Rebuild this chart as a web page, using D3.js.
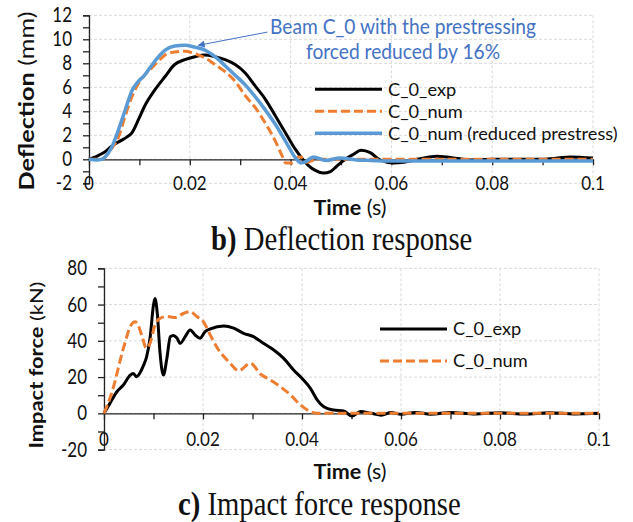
<!DOCTYPE html>
<html>
<head>
<meta charset="utf-8">
<script src="https://cdn.jsdelivr.net/npm/d3@7"></script>
<style>
  body { margin: 0; background: #fff; }
  text { font-family: Lato, "Open Sans", sans-serif; fill: #111; }
  .caption { font-family: "Liberation Serif", "Times New Roman", serif; }
</style>
</head>
<body>
<svg></svg>
<script>
// deflection response (b)
const defExpT = [0, 0.001, 0.002, 0.0032, 0.0045, 0.0052, 0.0065, 0.0075, 0.0085, 0.0098, 0.011, 0.0131, 0.0151, 0.017, 0.019, 0.021, 0.023, 0.025, 0.027, 0.029, 0.031, 0.033, 0.035, 0.037, 0.039, 0.041, 0.0422, 0.0435, 0.045, 0.0465, 0.048, 0.0491, 0.0505, 0.0524, 0.054, 0.0558, 0.0577, 0.0604, 0.0624, 0.0657, 0.069, 0.0717, 0.0756, 0.08, 0.085, 0.09, 0.093, 0.0954, 0.1];
const defExpV = [0, 0.15, 0.35, 0.63, 1.1, 1.3, 1.6, 1.85, 2.2, 3.3, 4.4, 5.8, 6.9, 7.9, 8.3, 8.55, 8.7, 8.55, 8.3, 7.9, 7.2, 6.1, 5.0, 3.6, 2.2, 0.8, 0.1, -0.5, -0.95, -1.15, -1.0, -0.6, -0.1, 0.4, 0.75, 0.55, -0.05, -0.3, -0.25, 0.05, 0.25, 0.15, -0.05, 0, 0, 0, 0.1, 0.2, 0.1];

const defNumT = [0, 0.0026, 0.0032, 0.0045, 0.0058, 0.0071, 0.0085, 0.0098, 0.011, 0.0124, 0.0138, 0.0151, 0.017, 0.019, 0.021, 0.023, 0.025, 0.027, 0.029, 0.031, 0.033, 0.035, 0.037, 0.0383, 0.039, 0.0403, 0.0416, 0.042, 0.0432, 0.045, 0.05, 0.06, 0.08, 0.1];
const defNumV = [0, 0, 0.2, 0.9, 1.8, 3.5, 5.2, 6.3, 7.0, 7.6, 8.2, 8.7, 8.95, 9.0, 8.8, 8.45, 7.9, 7.3, 6.5, 5.3, 4.3, 3.0, 1.5, 0.3, -0.3, -0.3, 0.2, 0.2, -0.25, 0, 0, 0, 0, 0];

const defRedT = [0, 0.0015, 0.0026, 0.0032, 0.0045, 0.0058, 0.0071, 0.0085, 0.0098, 0.011, 0.0124, 0.0138, 0.0151, 0.017, 0.019, 0.021, 0.023, 0.025, 0.027, 0.029, 0.031, 0.033, 0.035, 0.037, 0.039, 0.041, 0.042, 0.043, 0.0445, 0.047, 0.0498, 0.053, 0.056, 0.06, 0.07, 0.08, 0.09, 0.1];
const defRedV = [0, -0.05, 0, 0.2, 1.0, 2.4, 4.0, 5.7, 6.5, 7.0, 7.8, 8.55, 9.1, 9.45, 9.5, 9.35, 9.1, 8.55, 7.8, 7.0, 6.2, 5.2, 4.1, 2.9, 1.5, 0.1, -0.3, -0.2, 0.2, -0.1, 0.1, -0.05, -0.1, -0.15, -0.15, -0.15, -0.15, -0.15];

// impact force response (c)
const forceExpT = [0, 0.0012, 0.0026, 0.0039, 0.0053, 0.0059, 0.0066, 0.0072, 0.008, 0.0086, 0.0093, 0.01, 0.0103, 0.0108, 0.0113, 0.012, 0.0127, 0.0134, 0.014, 0.0147, 0.0154, 0.0164, 0.0174, 0.0184, 0.0194, 0.0204, 0.0215, 0.0242, 0.0262, 0.0282, 0.0302, 0.0322, 0.0343, 0.0363, 0.0383, 0.0403, 0.0417, 0.0431, 0.0444, 0.0464, 0.0484, 0.0501, 0.0518, 0.054, 0.056, 0.058, 0.06, 0.063, 0.066, 0.07, 0.075, 0.08, 0.085, 0.09, 0.095, 0.1];
const forceExpV = [0, 5.5, 11.9, 15.6, 21.1, 22, 20.2, 22, 26.6, 31.2, 41.4, 59.7, 63.4, 54, 34, 21.1, 30.3, 42.3, 43, 41.7, 38.6, 42.3, 46, 43.2, 41.4, 45, 46.6, 48.2, 47, 44.1, 42.3, 38.6, 34.9, 30.3, 23.9, 18.4, 13.8, 7.3, 3.6, 1.8, 1.3, -1.5, 1, 0, -1, 0.5, -0.5, 0.5, -0.5, 0.5, -0.3, 0.3, -0.4, 0.3, -0.3, 0];

const forceNumT = [0, 0.0012, 0.0022, 0.0032, 0.0043, 0.0053, 0.0063, 0.0069, 0.0076, 0.0086, 0.0093, 0.0103, 0.0113, 0.0127, 0.0144, 0.0161, 0.0174, 0.0188, 0.0201, 0.0215, 0.0228, 0.0255, 0.0272, 0.0296, 0.0316, 0.0336, 0.0356, 0.0377, 0.0397, 0.0417, 0.043, 0.1];
const forceNumV = [0, 8.3, 17.4, 28.5, 39.5, 47.8, 50.5, 48.7, 43.2, 35.9, 38.6, 48.7, 52.4, 53.4, 52.8, 55.2, 56.1, 53.3, 50.5, 43, 36.5, 27.6, 23.5, 27.6, 21.7, 18.4, 14.7, 10.1, 4.6, 0.9, 0, 0];

const timeTicks = [0, 0.02, 0.04, 0.06, 0.08, 0.1];
const defTicks = [-2, 0, 2, 4, 6, 8, 10, 12];
const forceTicks = [-20, 0, 20, 40, 60, 80];

const colExp = "#000000", colNum = "#ED7D31", colRed = "#5B9BD5", colNote = "#4472C4";

const width = 633, height = 522;

const svg = d3.select("svg")
    .attr("width", width)
    .attr("height", height)
    .attr("viewBox", [0, 0, width, height]);

const zip = (t, v) => t.map((d, i) => ({ t: d, v: v[i] }));
// the source figure is squashed horizontally, so its text looks tall
const at = (x, y, s = 1.2) => `translate(${x},${y}) scale(1,${s})`;

function panel(cfg) {
    const x = d3.scaleLinear().domain([0, 0.1]).range([cfg.left, cfg.right]);
    const y = d3.scaleLinear().domain(cfg.yDomain).range([cfg.bottom, cfg.top]);
    const g = svg.append("g");

    // dashed grid
    g.append("g").selectAll("line").data(cfg.yTicks).join("line")
        .attr("x1", cfg.left).attr("x2", cfg.right)
        .attr("y1", d => y(d)).attr("y2", d => y(d))
        .attr("stroke", "#d9d9d9").attr("stroke-dasharray", "3,2");
    g.append("g").selectAll("line").data(timeTicks).join("line")
        .attr("x1", d => x(d)).attr("x2", d => x(d))
        .attr("y1", cfg.top).attr("y2", cfg.bottom)
        .attr("stroke", "#d9d9d9").attr("stroke-dasharray", "3,2");

    // y axis with minor ticks
    const yAxis = d3.axisLeft(y)
        .tickValues(d3.range(cfg.yDomain[0], cfg.yDomain[1] + 0.001, cfg.minor))
        .tickSize(6).tickFormat("");
    g.append("g").attr("transform", `translate(${cfg.left},0)`).call(yAxis)
        .call(a => a.selectAll("line, path").attr("stroke", "#222").attr("stroke-width", 1.3));

    // x axis on the zero line, ticks every 0.01
    const xAxis = d3.axisBottom(x).tickValues(d3.range(0, 0.1001, 0.01))
        .tickSize(6).tickSizeOuter(0).tickFormat("");
    g.append("g").attr("transform", `translate(0,${y(0)})`).call(xAxis)
        .call(a => a.selectAll("line, path").attr("stroke", "#222").attr("stroke-width", 1.3));

    // tick labels
    g.append("g").selectAll("text").data(cfg.yTicks).join("text")
        .attr("transform", d => at(cfg.left - 17, y(d))).attr("dy", "0.35em")
        .attr("text-anchor", "end").attr("font-size", 17)
        .text(d => d);
    g.append("g").selectAll("text").data(timeTicks).join("text")
        .attr("transform", d => at(x(d), cfg.xLabelY, 1.1)).attr("dy", "0.35em")
        .attr("text-anchor", "middle").attr("font-size", 17)
        .text(d => d);

    // axis titles
    const tt = g.append("text").attr("transform", at(350, cfg.timeY, 1))
        .attr("text-anchor", "middle").attr("font-size", 21.5);
    tt.append("tspan").attr("font-weight", "bold").text("Time");
    tt.append("tspan").text(" (s)");

    const yt = g.append("text")
        .attr("transform", at(cfg.yTitleX, cfg.yTitleY) + " rotate(-90)")
        .attr("text-anchor", "middle").attr("font-size", cfg.yTitleSize);
    yt.append("tspan").attr("font-weight", "bold").text(cfg.yBold);
    yt.append("tspan").text(cfg.yUnit);

    // series
    const line = d3.line().curve(d3.curveMonotoneX)
        .x(d => x(d.t)).y(d => y(d.v));
    cfg.series.forEach(s => {
        g.append("path")
            .attr("fill", "none")
            .attr("stroke", s.color)
            .attr("stroke-width", s.w)
            .attr("stroke-dasharray", s.dash || null)
            .attr("stroke-linejoin", "round")
            .attr("d", line(zip(s.t, s.v)));
    });

    // legend
    cfg.series.forEach((s, i) => {
        const ly = cfg.legY + i * cfg.legStep;
        g.append("line")
            .attr("x1", cfg.legX).attr("x2", cfg.legX + 67)
            .attr("y1", ly).attr("y2", ly)
            .attr("stroke", s.color).attr("stroke-width", s.w)
            .attr("stroke-dasharray", s.dash || null);
        g.append("text")
            .attr("transform", at(cfg.legX + 73, ly, 1)).attr("dy", "0.35em")
            .attr("font-size", 18.2)
            .text(s.name);
    });

    // caption
    const cap = svg.append("text").attr("class", "caption")
        .attr("transform", at(cfg.capX, cfg.capY)).attr("font-size", 28.7);
    cap.append("tspan").attr("font-weight", "bold").text(cfg.capBold);
    cap.append("tspan").text(cfg.capText);

    return { x, y };
}

const defPanel = panel({
    left: 89, right: 593, top: 15.3, bottom: 183.3,
    yDomain: [-2, 12], yTicks: defTicks, minor: 1,
    xLabelY: 183.5, timeY: 214.5, yTitleX: 34, yTitleY: 101, yTitleSize: 21,
    yBold: "Deflection", yUnit: " (mm)",
    legX: 315, legY: 89.3, legStep: 22,
    capX: 211, capY: 250, capBold: "b)", capText: " Deflection response",
    series: [
        { name: "C_0_exp", t: defExpT, v: defExpV, color: colExp, w: 3 },
        { name: "C_0_num", t: defNumT, v: defNumV, color: colNum, w: 3, dash: "9,4" },
        { name: "C_0_num (reduced prestress)", t: defRedT, v: defRedV, color: colRed, w: 3.5 }
    ]
});

panel({
    left: 104, right: 599, top: 268.3, bottom: 449.6,
    yDomain: [-20, 80], yTicks: forceTicks, minor: 10,
    xLabelY: 439, timeY: 478.5, yTitleX: 42.5, yTitleY: 365, yTitleSize: 18.2,
    yBold: "Impact force", yUnit: " (kN)",
    legX: 380, legY: 329, legStep: 32,
    capX: 178, capY: 515, capBold: "c)", capText: " Impact force response",
    series: [
        { name: "C_0_exp", t: forceExpT, v: forceExpV, color: colExp, w: 3 },
        { name: "C_0_num", t: forceNumT, v: forceNumV, color: colNum, w: 3, dash: "9,4" }
    ]
});

// annotation with arrow
svg.append("defs").append("marker")
    .attr("id", "arrow").attr("viewBox", "0 0 10 10")
    .attr("refX", 9).attr("refY", 5)
    .attr("markerWidth", 9).attr("markerHeight", 7)
    .attr("orient", "auto")
    .append("path").attr("d", "M0,0L10,5L0,10z").attr("fill", colNote);

svg.append("line")
    .attr("x1", defPanel.x(0.0354)).attr("y1", defPanel.y(10.6))
    .attr("x2", defPanel.x(0.0217)).attr("y2", defPanel.y(9.5))
    .attr("stroke", colNote).attr("stroke-width", 1)
    .attr("marker-end", "url(#arrow)");

const noteLines = ["Beam C_0 with the prestressing", "forced reduced by 16%"];
svg.append("g").selectAll("text").data(noteLines).join("text")
    .attr("transform", (d, i) => at(403, 34 + i * 25, 1.05))
    .attr("text-anchor", "middle").attr("font-size", 19.2)
    .style("fill", colNote)
    .text(d => d);
</script>
</body>
</html>
